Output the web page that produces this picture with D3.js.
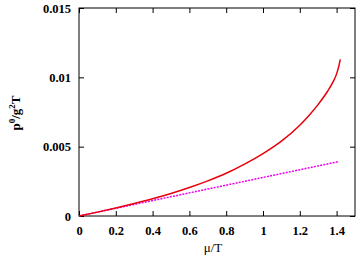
<!DOCTYPE html>
<html><head><meta charset="utf-8">
<script src="https://cdn.jsdelivr.net/npm/d3@7"></script>
<style>body{margin:0;background:#fff;}svg{display:block;}</style>
</head><body>
<svg id="c" width="361" height="257"></svg>
<script>
const xTicks = [0, 0.2, 0.4, 0.6, 0.8, 1, 1.2, 1.4];
const yTicks = [0, 0.005, 0.01, 0.015];
const yTickLabels = ["0", "0.005", "0.01", "0.015"];
const muFull = [0, 0.1, 0.2, 0.3, 0.4, 0.5, 0.6, 0.7, 0.8, 0.9, 1.0, 1.1, 1.2, 1.25, 1.3, 1.35, 1.38, 1.40, 1.41, 1.42];
const pFull = [0, 0.00028, 0.00058, 0.00090, 0.00124, 0.00162, 0.00205, 0.00253, 0.00308, 0.00374, 0.00450, 0.00540, 0.00655, 0.00725, 0.00805, 0.00898, 0.00965, 0.01025, 0.0107, 0.0113];
const muLin = [0, 1.41];
const pLin = [0, 0.00392];

const svg = d3.select("#c");
const L = 79, R = 355, T = 8, B = 216;
const x = d3.scaleLinear().domain([0, 1.5]).range([L, R]);
const y = d3.scaleLinear().domain([0, 0.015]).range([B, T]);
const font = "'Liberation Serif', 'Times New Roman', serif";

svg.append("rect").attr("x", L).attr("y", T).attr("width", R - L).attr("height", B - T)
  .attr("fill", "none").attr("stroke", "#000").attr("stroke-width", 1);

const tl = 5;
const xb = svg.append("g").attr("transform", `translate(0,${B})`)
  .call(d3.axisBottom(x).tickValues(xTicks).tickSize(-tl).tickPadding(10).tickFormat(d3.format("")));
const xt = svg.append("g").attr("transform", `translate(0,${T})`)
  .call(d3.axisTop(x).tickValues(xTicks).tickSize(-tl).tickFormat(""));
const yl = svg.append("g").attr("transform", `translate(${L},0)`)
  .call(d3.axisLeft(y).tickValues(yTicks).tickSize(-tl).tickPadding(8).tickFormat((d, i) => yTickLabels[i]));
const yr = svg.append("g").attr("transform", `translate(${R},0)`)
  .call(d3.axisRight(y).tickValues(yTicks).tickSize(-tl).tickFormat(""));
[xb, xt, yl, yr].forEach(g => {
  g.select(".domain").remove();
  g.selectAll("line").attr("stroke", "#000");
  g.selectAll("text").attr("font-family", font).attr("font-weight", "bold")
    .attr("font-size", 12.5).attr("fill", "#000");
});
xb.selectAll("text").attr("dy", "0.71em");

const line = d3.line().x(d => x(d[0])).y(d => y(d[1])).curve(d3.curveMonotoneX);
svg.append("path").datum(muLin.map((m, i) => [m, pLin[i]]))
  .attr("d", line).attr("fill", "none").attr("stroke", "#ee00ee").attr("stroke-width", 1.5)
  .attr("stroke-dasharray", "2,1.2");
svg.append("path").datum(muFull.map((m, i) => [m, pFull[i]]))
  .attr("d", line).attr("fill", "none").attr("stroke", "#e8000b").attr("stroke-width", 1.5);

svg.append("text").attr("x", 213).attr("y", 252).attr("text-anchor", "middle")
  .attr("font-family", font).attr("font-size", 13).text("μ/T");
const yt = svg.append("text").attr("transform", "translate(20,113) rotate(-90)")
  .attr("text-anchor", "middle").attr("font-family", font).attr("font-weight", "bold").attr("font-size", 13);
yt.append("tspan").text("p");
yt.append("tspan").attr("dy", -5).attr("font-size", 9).text("0");
yt.append("tspan").attr("dy", 5).text("/g");
yt.append("tspan").attr("dy", -5).attr("font-size", 9).text("2");
yt.append("tspan").attr("dy", 5).text("T");
</script>
</body></html>
